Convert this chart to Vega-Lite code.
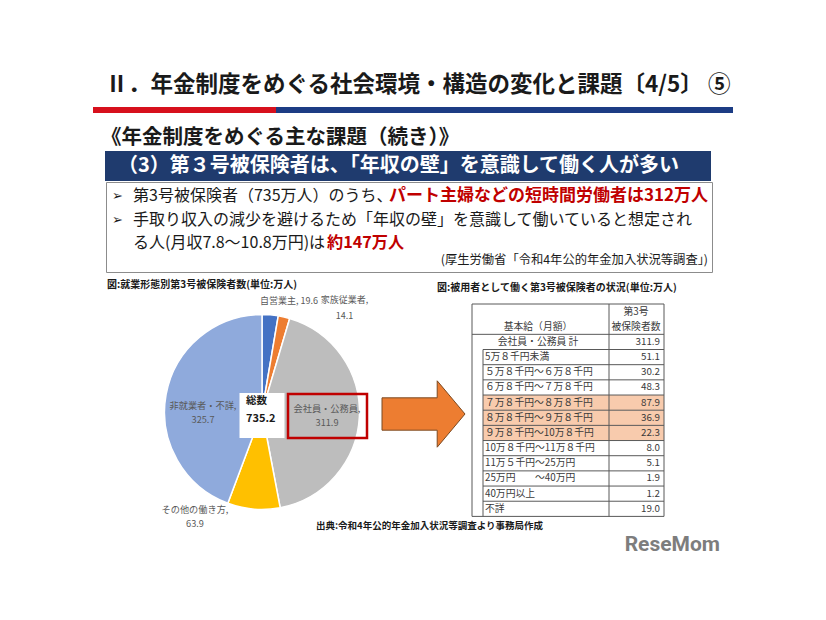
{
  "$schema": "https://vega.github.io/schema/vega-lite/v6.json",
  "background": "white",
  "padding": {"left": 93, "top": 65, "right": 93, "bottom": 50},
  "spacing": 0,
  "config": {
    "view": {"stroke": null},
    "font": "Noto Sans CJK JP",
    "concat": {"spacing": 0}
  },
  "vconcat": [
    {
      "width": 640, "height": 42,
      "data": {"values": [{}]},
      "mark": {"type": "text", "text": "Ⅱ．年金制度をめぐる社会環境・構造の変化と課題〔4/5〕 ⑤", "fontSize": 22.5, "fontWeight": "bold", "color": "#1a1a1a", "dx": 5, "dy": -1.5},
      "encoding": {}
    },
    {
      "spacing": 0,
      "hconcat": [
        {"width": 183, "height": 6, "view": {"fill": "#D7101D", "stroke": null}, "data": {"values": [{}]}, "mark": {"type": "text", "text": "", "fontSize": 1}, "encoding": {}},
        {"width": 457, "height": 6, "view": {"fill": "#1C3C84", "stroke": null}, "data": {"values": [{}]}, "mark": {"type": "text", "text": "", "fontSize": 1}, "encoding": {}}
      ]
    },
    {
      "width": 640, "height": 38,
      "data": {"values": [{}]},
      "mark": {"type": "text", "text": "《年金制度をめぐる主な課題（続き）》", "align": "left", "fontSize": 20.5, "fontWeight": "bold", "color": "#1a1a1a", "dx": -312, "dy": 5.5},
      "encoding": {}
    },
    {
      "spacing": 0,
      "hconcat": [
        {"width": 12, "height": 30, "data": {"values": [{}]}, "mark": {"type": "text", "text": "", "fontSize": 1}, "encoding": {}},
        {
          "width": 606, "height": 30,
          "view": {"fill": "#1F3B6E", "stroke": null},
          "data": {"values": [{}]},
          "mark": {"type": "text", "text": "（3）第３号被保険者は、「年収の壁」を意識して働く人が多い", "color": "white", "fontSize": 20, "fontWeight": "bold", "dx": -9.5},
          "encoding": {}
        }
      ]
    },
    {
      "spacing": 0,
      "hconcat": [
        {"width": 12, "height": 90, "data": {"values": [{}]}, "mark": {"type": "text", "text": "", "fontSize": 1}, "encoding": {}},
        {
          "width": 606, "height": 90,
          "view": {"fill": "white", "stroke": "#8c8c8c", "strokeWidth": 1},
          "data": {"values": [{}]},
          "layer": [
            {"mark": {"type": "text", "text": "➢", "font": "DejaVu Sans", "fontSize": 13, "dx": -291.5, "dy": -31, "color": "#1a1a1a"}, "encoding": {}},
            {"mark": {"type": "text", "text": "➢", "font": "DejaVu Sans", "fontSize": 13, "dx": -291.5, "dy": -7.5, "color": "#1a1a1a"}, "encoding": {}},
            {"mark": {"type": "text", "text": "第3号被保険者（735万人）のうち、", "align": "left", "dx": -276, "dy": -31, "fontSize": 16, "color": "#1a1a1a"}, "encoding": {}},
            {"mark": {"type": "text", "text": "パート主婦などの短時間労働者は312万人", "align": "left", "dx": -20, "dy": -31, "fontSize": 17, "fontWeight": "bold", "color": "#C00000"}, "encoding": {}},
            {"mark": {"type": "text", "text": "手取り収入の減少を避けるため「年収の壁」を意識して働いていると想定され", "align": "left", "dx": -276, "dy": -7.5, "fontSize": 16, "color": "#1a1a1a"}, "encoding": {}},
            {"mark": {"type": "text", "text": "る人(月収7.8～10.8万円)は", "align": "left", "dx": -276, "dy": 15.5, "fontSize": 16, "color": "#1a1a1a"}, "encoding": {}},
            {"mark": {"type": "text", "text": "約147万人", "align": "left", "dx": -82, "dy": 15.5, "fontSize": 16.2, "fontWeight": "bold", "color": "#C00000"}, "encoding": {}},
            {"mark": {"type": "text", "text": "(厚生労働省「令和4年公的年金加入状況等調査」)", "align": "right", "dx": 299, "dy": 33, "fontSize": 12.3, "color": "#1a1a1a"}, "encoding": {}}
          ]
        }
      ]
    },
    {
      "width": 640, "height": 21,
      "data": {"values": [{}]},
      "layer": [
        {"mark": {"type": "text", "text": "図:就業形態別第3号被保険者数(単位:万人)", "align": "left", "dx": -306, "dy": 1.5, "fontSize": 10, "fontWeight": "bold", "color": "#1a1a1a"}, "encoding": {}},
        {"mark": {"type": "text", "text": "図:被用者として働く第3号被保険者の状況(単位:万人)", "align": "left", "dx": 24, "dy": 4.5, "fontSize": 10, "fontWeight": "bold", "color": "#1a1a1a"}, "encoding": {}}
      ]
    },
    {
      "spacing": 0,
      "bounds": "flush",
      "hconcat": [
        {"width": 53, "height": 236, "data": {"values": [{}]}, "mark": {"type": "text", "text": "", "fontSize": 1}, "encoding": {}},
        {
          "width": 232, "height": 236,
          "data": {"values": [
            {"name": "自営業主", "value": 19.6, "ord": 1},
            {"name": "家族従業者", "value": 14.1, "ord": 2},
            {"name": "会社員・公務員", "value": 311.9, "ord": 3},
            {"name": "その他の働き方", "value": 63.9, "ord": 4},
            {"name": "非就業者・不詳", "value": 325.7, "ord": 5}
          ]},
          "layer": [
            {
              "mark": {"type": "arc", "outerRadius": 97.5, "stroke": "white", "strokeWidth": 1.5},
              "encoding": {
                "theta": {"field": "value", "type": "quantitative", "stack": true},
                "order": {"field": "ord", "type": "quantitative"},
                "color": {"field": "name", "type": "nominal", "legend": null,
                  "scale": {"domain": ["自営業主", "家族従業者", "会社員・公務員", "その他の働き方", "非就業者・不詳"],
                            "range": ["#4472C4", "#ED7D31", "#BDBDBD", "#FFC000", "#8FAADC"]}}
              }
            },
            {
              "transform": [{"aggregate": [{"op": "sum", "field": "value", "as": "total"}]}],
              "mark": {"type": "point", "shape": "square", "size": 2025, "filled": true, "color": "white", "opacity": 1, "strokeWidth": 0, "yOffset": 3.5},
              "encoding": {}
            },
            {
              "transform": [{"aggregate": [{"op": "sum", "field": "value", "as": "total"}]}],
              "mark": {"type": "point", "shape": "M -1 -0.557 L 1 -0.557 L 1 0.557 L -1 0.557 Z", "size": 6241, "filled": false, "stroke": "#C00000", "strokeWidth": 2.5, "opacity": 1, "xOffset": 65.5, "yOffset": 4},
              "encoding": {}
            },
            {
              "transform": [{"filter": "datum.name === '自営業主'"}],
              "mark": {"type": "text", "dx": 27, "dy": -111, "fontSize": 9, "color": "#595959", "text": {"expr": "datum.name + ', ' + format(datum.value, '.1f')"}},
              "encoding": {}
            },
            {
              "transform": [{"filter": "datum.name === '家族従業者'"}],
              "mark": {"type": "text", "dx": 82.5, "dy": -112, "lineHeight": 16, "fontSize": 9, "color": "#595959", "text": {"expr": "[datum.name + ',', format(datum.value, '.1f')]"}},
              "encoding": {}
            },
            {
              "transform": [{"filter": "datum.name === '会社員・公務員'"}],
              "mark": {"type": "text", "dx": 65, "dy": -3, "lineHeight": 14, "fontSize": 9.2, "color": "#595959", "text": {"expr": "[datum.name + ',', format(datum.value, '.1f')]"}},
              "encoding": {}
            },
            {
              "transform": [{"filter": "datum.name === '非就業者・不詳'"}],
              "mark": {"type": "text", "dx": -59, "dy": -6, "lineHeight": 14, "fontSize": 9.2, "color": "#595959", "text": {"expr": "[datum.name + ',', format(datum.value, '.1f')]"}},
              "encoding": {}
            },
            {
              "transform": [{"filter": "datum.name === 'その他の働き方'"}],
              "mark": {"type": "text", "dx": -67, "dy": 98, "lineHeight": 14, "fontSize": 9.2, "color": "#595959", "text": {"expr": "[datum.name + ',', format(datum.value, '.1f')]"}},
              "encoding": {}
            },
            {
              "transform": [{"aggregate": [{"op": "sum", "field": "value", "as": "total"}]}],
              "mark": {"type": "text", "text": "総数", "align": "left", "dx": -16, "dy": -11, "fontSize": 10.5, "fontWeight": "bold", "color": "#1a1a1a"},
              "encoding": {}
            },
            {
              "transform": [{"aggregate": [{"op": "sum", "field": "value", "as": "total"}]}],
              "mark": {"type": "text", "align": "left", "dx": -16, "dy": 7, "fontSize": 11, "fontWeight": "bold", "color": "#1a1a1a"},
              "encoding": {"text": {"field": "total", "type": "quantitative", "format": ".1f"}}
            }
          ]
        },
        {
          "width": 94, "height": 236,
          "data": {"values": [{}]},
          "mark": {"type": "point", "shape": "M -1 -0.39 L 0.33 -0.39 L 0.33 -0.8 L 1 0 L 0.33 0.8 L 0.33 0.39 L -1 0.39 Z", "size": 6889, "filled": true, "fill": "#ED7D31", "stroke": "#7b4a22", "strokeWidth": 1, "opacity": 1, "xOffset": -1.5, "yOffset": 2},
          "encoding": {}
        },
        {
          "width": 192, "height": 223,
          "data": {"values": [
            {"label": "会社員・公務員 計", "value": 311.9, "kind": "total", "hl": false},
            {"label": "5万８千円未満", "value": 51.1, "kind": "sub", "hl": false},
            {"label": "５万８千円～６万８千円", "value": 30.2, "kind": "sub", "hl": false},
            {"label": "６万８千円～７万８千円", "value": 48.3, "kind": "sub", "hl": false},
            {"label": "７万８千円～８万８千円", "value": 87.9, "kind": "sub", "hl": true},
            {"label": "８万８千円～９万８千円", "value": 36.9, "kind": "sub", "hl": true},
            {"label": "９万８千円～10万８千円", "value": 22.3, "kind": "sub", "hl": true},
            {"label": "10万８千円～11万８千円", "value": 8.0, "kind": "sub", "hl": false},
            {"label": "11万５千円～25万円", "value": 5.1, "kind": "sub", "hl": false},
            {"label": "25万円　　～40万円", "value": 1.9, "kind": "sub", "hl": false},
            {"label": "40万円以上", "value": 1.2, "kind": "sub", "hl": false},
            {"label": "不詳", "value": 19.0, "kind": "sub", "hl": false}
          ]},
          "encoding": {
            "y": {"field": "label", "type": "nominal", "axis": null,
              "scale": {"paddingInner": 0, "paddingOuter": 0, "range": [10, 222.4],
                "domain": ["h1", "h2", "会社員・公務員 計", "5万８千円未満", "５万８千円～６万８千円", "６万８千円～７万８千円", "７万８千円～８万８千円", "８万８千円～９万８千円", "９万８千円～10万８千円", "10万８千円～11万８千円", "11万５千円～25万円", "25万円　　～40万円", "40万円以上", "不詳"]}}
          },
          "layer": [
            {
              "transform": [{"filter": "datum.hl"}],
              "mark": {"type": "rect", "color": "#F8CBAD"},
              "encoding": {"x": {"value": 11}, "x2": {"value": 192}}
            },
            {
              "transform": [{"filter": "datum.kind === 'total'"}],
              "mark": {"type": "rect", "fillOpacity": 0, "stroke": "#595959", "strokeWidth": 1},
              "encoding": {"x": {"value": 0}, "x2": {"value": 192}, "y": {"value": 10}, "y2": {"value": 222.4}}
            },
            {
              "transform": [{"filter": "datum.kind === 'total'"}],
              "mark": {"type": "rule", "color": "#595959", "strokeWidth": 1},
              "encoding": {"y": {"field": "label", "type": "nominal", "bandPosition": 0}, "x": {"value": 0}, "x2": {"value": 192}}
            },
            {
              "transform": [{"filter": "datum.kind === 'sub'"}],
              "mark": {"type": "rule", "color": "#595959", "strokeWidth": 1},
              "encoding": {"y": {"field": "label", "type": "nominal", "bandPosition": 0}, "x": {"value": 11}, "x2": {"value": 192}}
            },
            {
              "transform": [{"filter": "datum.label === '5万８千円未満'"}],
              "mark": {"type": "rule", "color": "#595959", "strokeWidth": 1},
              "encoding": {"y": {"field": "label", "type": "nominal", "bandPosition": 0}, "y2": {"value": 222.4}, "x": {"value": 11}}
            },
            {
              "transform": [{"filter": "datum.kind === 'total'"}],
              "mark": {"type": "rule", "color": "#595959", "strokeWidth": 1},
              "encoding": {"y": {"value": 10}, "y2": {"value": 222.4}, "x": {"value": 137}}
            },
            {
              "data": {"values": [
                {"label": "h1", "c1": "", "c2": "第3号"},
                {"label": "h2", "c1": "基本給（月額）", "c2": "被保険者数"}
              ]},
              "mark": {"type": "text", "fontSize": 9.8, "color": "#3a3a3a"},
              "encoding": {"x": {"value": 66}, "text": {"field": "c1", "type": "nominal"}}
            },
            {
              "data": {"values": [
                {"label": "h1", "c1": "", "c2": "第3号"},
                {"label": "h2", "c1": "基本給（月額）", "c2": "被保険者数"}
              ]},
              "mark": {"type": "text", "fontSize": 9.8, "color": "#3a3a3a"},
              "encoding": {"x": {"value": 164}, "text": {"field": "c2", "type": "nominal"}}
            },
            {
              "transform": [{"filter": "datum.kind === 'total'"}],
              "mark": {"type": "text", "fontSize": 9.8, "color": "#3a3a3a"},
              "encoding": {"x": {"value": 66}, "text": {"field": "label", "type": "nominal"}}
            },
            {
              "transform": [{"filter": "datum.kind === 'sub'"}],
              "mark": {"type": "text", "align": "left", "fontSize": 9.8, "color": "#3a3a3a"},
              "encoding": {"x": {"value": 13}, "text": {"field": "label", "type": "nominal"}}
            },
            {
              "mark": {"type": "text", "align": "right", "fontSize": 9.8, "color": "#3a3a3a"},
              "encoding": {"x": {"value": 188}, "text": {"field": "value", "type": "quantitative", "format": ".1f"}}
            },
            {
              "transform": [{"filter": "datum.kind === 'total'"}],
              "mark": {"type": "text", "text": "出典:令和4年公的年金加入状況等調査より事務局作成", "align": "left", "fontSize": 9.5, "fontWeight": "bold", "color": "#1a1a1a"},
              "encoding": {"x": {"value": -156}, "y": {"value": 232}}
            },
            {
              "transform": [{"filter": "datum.kind === 'total'"}],
              "mark": {"type": "text", "text": "ReseMom", "align": "right", "font": "Roboto", "fontSize": 21, "fontWeight": "bold", "color": "#7d7d7d"},
              "encoding": {"x": {"value": 248}, "y": {"value": 251}}
            }
          ]
        }
      ]
    }
  ]
}
